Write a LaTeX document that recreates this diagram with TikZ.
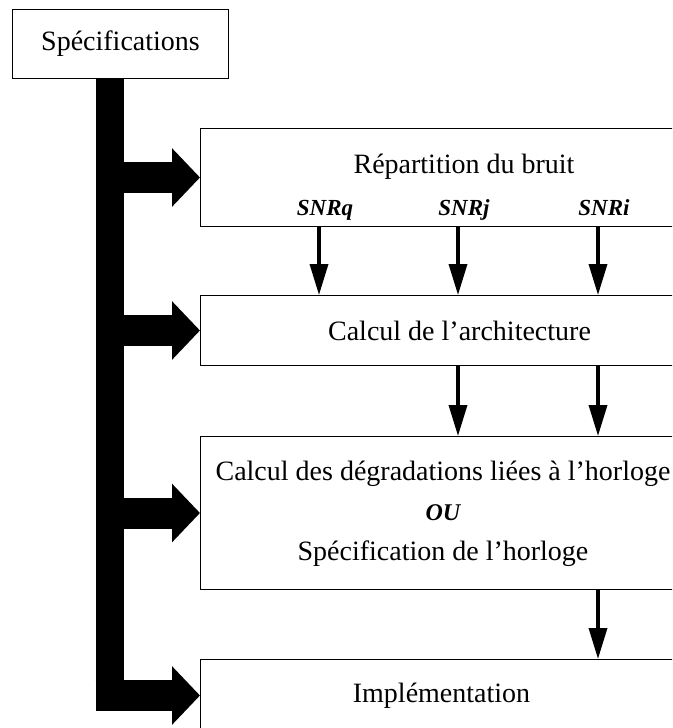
\documentclass[tikz,border=0pt]{standalone}
\usepackage{fontspec}
\setmainfont{Liberation Serif}
\usetikzlibrary{arrows.meta}
\begin{document}
\begin{tikzpicture}[x=1pt,y=-1pt, font=\fontsize{28}{34}\selectfont, line join=miter,
	box/.style={draw, line width=1pt, anchor=north west, inner sep=0pt},
	snr/.style={font=\fontsize{23}{27}\selectfont\bfseries\itshape},
	flow/.style={-{Triangle[length=31pt,width=18pt]}, line width=3.5pt},
	bigflow/.style={-{Triangle[length=28pt,width=57pt]}, line width=31pt}]
	\useasboundingbox (0,0) rectangle (672,728);
	\clip (0,0) rectangle (672,728);
	% Boites
	\node[box, minimum width=216pt, minimum height=69pt] (spec) at (12,9) {Spécifications};
	\node[box, minimum width=528pt, minimum height=98pt] (rep) at (200,128) {};
	\node[anchor=base] (reptitle) at (464,173) {Répartition du bruit};
	\node[box, minimum width=518pt, minimum height=70pt] (arch) at (200,295) {Calcul de l’architecture};
	\node[box, minimum width=528pt, minimum height=153pt] (deg) at (200,436) {};
	\node[align=center, font=\fontsize{28}{40}\selectfont] (degtext) at (443,514)
		{Calcul des dégradations liées à l’horloge\\
		{\bfseries\itshape\fontsize{24}{40}\selectfont OU}\\
		Spécification de l’horloge};
	\node[box, minimum width=482pt, minimum height=72pt] (impl) at (200,659) {Implémentation};
	% Barre noire
	\coordinate (bartop) at ([xshift=-11pt]spec.south);
	\draw[line width=28pt] (bartop) -- ([yshift=-15.5pt]bartop |- impl.west);
	\foreach \b in {rep,arch,deg}
		\draw[bigflow] (bartop |- \b.west) -- (\b.west);
	\draw[bigflow] ([xshift=-14pt]bartop |- impl.west) -- (impl.west);
	% Rapports signal a bruit
	\foreach \x/\n in {319/q,458/j,598/i}{
		\coordinate (c\n) at (\x,0);
		\node[snr, anchor=base] (snr\n) at (\x+6,215) {SNR\n};
		\draw[flow] (rep.south -| c\n) -- (arch.north -| c\n);
	}
	\draw[flow] (arch.south -| cj) -- (deg.north -| cj);
	\draw[flow] (arch.south -| ci) -- (deg.north -| ci);
	\draw[flow] (deg.south -| ci) -- (impl.north -| ci);
\end{tikzpicture}
\end{document}
